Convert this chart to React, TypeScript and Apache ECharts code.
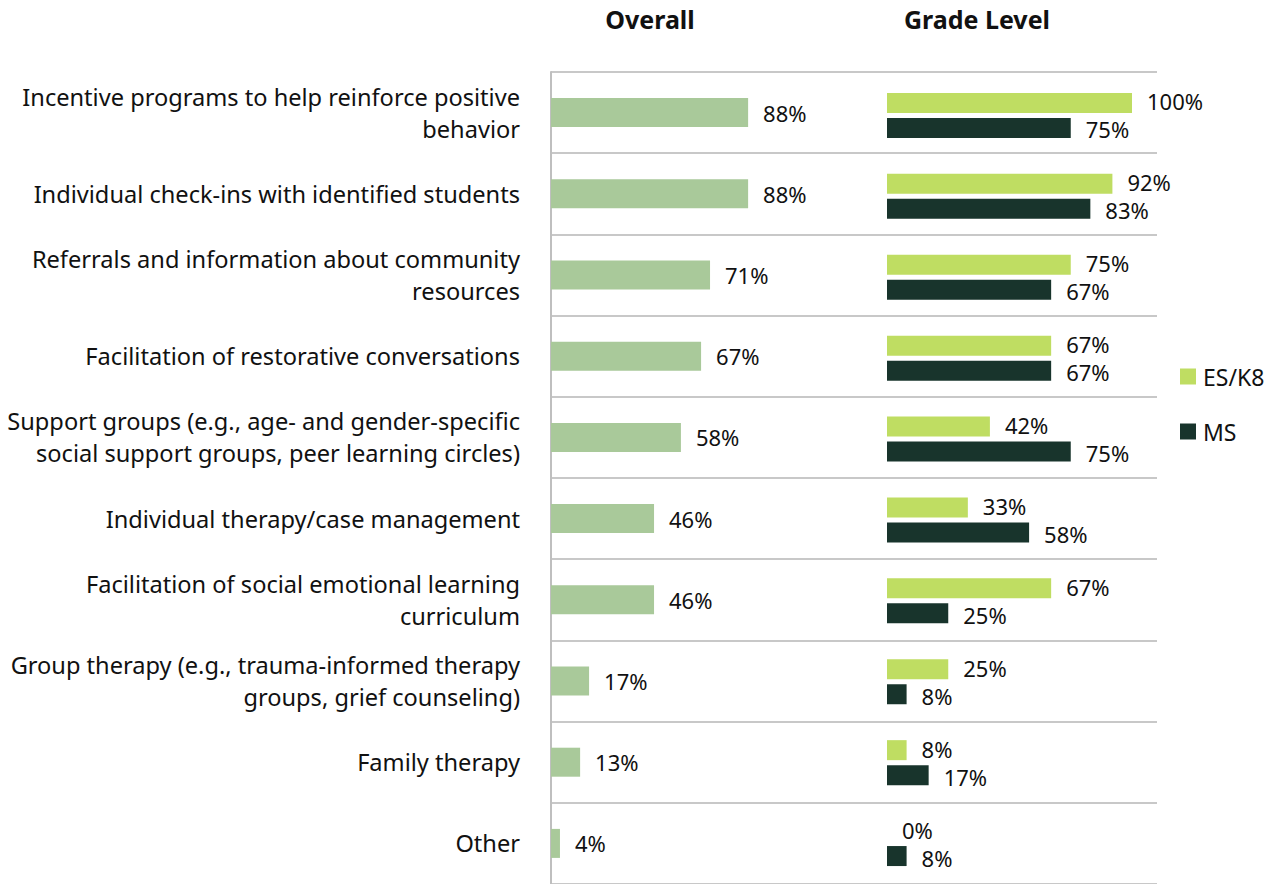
import React, { useEffect, useRef } from "react";
import * as echarts from "echarts";

const categories = [
  "Incentive programs to help reinforce positive\nbehavior",
  "Individual check-ins with identified students",
  "Referrals and information about community\nresources",
  "Facilitation of restorative conversations",
  "Support groups (e.g., age- and gender-specific\nsocial support groups, peer learning circles)",
  "Individual therapy/case management",
  "Facilitation of social emotional learning\ncurriculum",
  "Group therapy (e.g., trauma-informed therapy\ngroups, grief counseling)",
  "Family therapy",
  "Other",
];
const overall = [88, 88, 71, 67, 58, 46, 46, 17, 13, 4];
const esK8 = [100, 92, 75, 67, 42, 33, 67, 25, 8, 0];
const ms = [75, 83, 67, 67, 75, 58, 25, 8, 17, 8];
const titles = ["Overall", "Grade Level"];
const seriesNames = ["ES/K8", "MS"];

const FONT = "Noto Sans";
const TOP = 72;
const HEIGHT = 813;

export default function App() {
  const ref = useRef<HTMLDivElement>(null);
  useEffect(() => {
    const chart = echarts.init(ref.current!, null, { renderer: "svg" });
    const label = {
      show: true,
      position: "right",
      distance: 15,
      formatter: "{c}%",
      fontFamily: FONT,
      fontSize: 22,
      lineHeight: 22,
      color: "#111",
    };
    chart.setOption({
      animation: false,
      textStyle: { fontFamily: FONT },
      title: [
        {
          text: titles[0],
          left: 645,
          top: 1,
          textAlign: "center",
          textStyle: { fontFamily: FONT, fontWeight: "bold", fontSize: 25, color: "#111" },
        },
        {
          text: titles[1],
          left: 972,
          top: 1,
          textAlign: "center",
          textStyle: { fontFamily: FONT, fontWeight: "bold", fontSize: 25, color: "#111" },
        },
      ],
      legend: {
        orient: "vertical",
        left: 1180,
        top: 365,
        padding: 0,
        itemWidth: 16,
        itemHeight: 16,
        itemGap: 32,
        icon: "rect",
        data: seriesNames,
        textStyle: { fontFamily: FONT, fontSize: 23, color: "#111", padding: [0, 0, 0, 2] },
      },
      grid: [
        { left: 551, width: 606, top: TOP, height: HEIGHT, containLabel: false },
        { left: 551, width: 224, top: TOP, height: HEIGHT, containLabel: false },
        { left: 887, width: 245, top: TOP + 3, height: HEIGHT, containLabel: false },
      ],
      xAxis: [
        { gridIndex: 0, type: "value", min: 0, max: 1, show: false },
        { gridIndex: 1, type: "value", min: 0, max: 100, show: false },
        { gridIndex: 2, type: "value", min: 0, max: 100, show: false },
      ],
      yAxis: [
        {
          gridIndex: 0,
          type: "category",
          inverse: true,
          data: categories,
          axisLine: { show: true, lineStyle: { color: "#BFBFBF", width: 2 } },
          axisTick: { show: false },
          axisLabel: {
            show: true,
            margin: 31,
            fontFamily: FONT,
            fontSize: 23.6,
            color: "#111",
            lineHeight: 32,
            align: "right",
          },
          splitLine: { show: true, lineStyle: { color: "#C8C8C8", width: 2 } },
        },
        {
          gridIndex: 1,
          type: "category",
          inverse: true,
          data: categories,
          show: false,
        },
        {
          gridIndex: 2,
          type: "category",
          inverse: true,
          data: categories,
          show: false,
        },
      ],
      series: [
        {
          name: "Overall",
          type: "bar",
          xAxisIndex: 1,
          yAxisIndex: 1,
          data: overall,
          barWidth: 29,
          itemStyle: { color: "#A9C99A" },
          label,
        },
        {
          name: seriesNames[0],
          type: "bar",
          xAxisIndex: 2,
          yAxisIndex: 2,
          data: esK8,
          barWidth: 20,
          barGap: "25%",
          itemStyle: { color: "#BFDD62" },
          label: { ...label, offset: [0, -1.5] },
        },
        {
          name: seriesNames[1],
          type: "bar",
          xAxisIndex: 2,
          yAxisIndex: 2,
          data: ms,
          barWidth: 20,
          barGap: "25%",
          itemStyle: { color: "#18342C" },
          label: { ...label, offset: [0, 1.5] },
        },
      ],
    });
    return () => chart.dispose();
  }, []);
  return <div ref={ref} style={{ width: 1278, height: 884, position: "absolute", left: 0, top: 0 }} />;
}
